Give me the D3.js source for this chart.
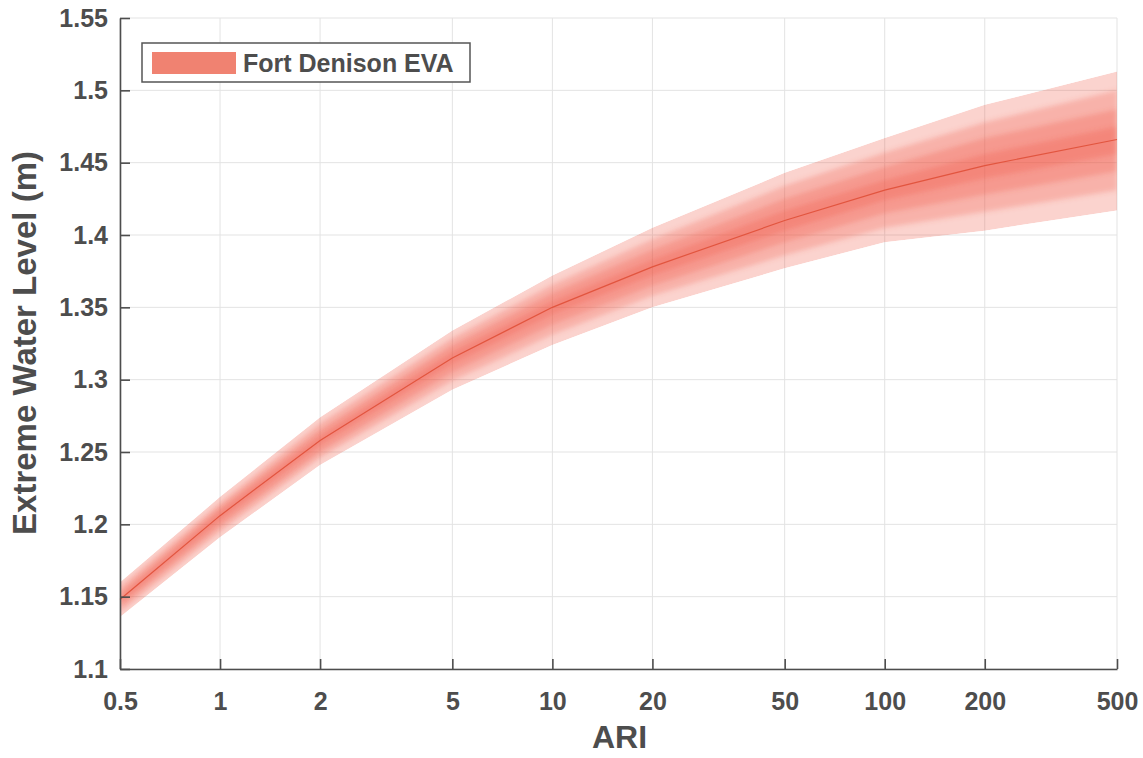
<!DOCTYPE html>
<html>
<head>
<meta charset="utf-8">
<script src="https://cdn.jsdelivr.net/npm/d3@7"></script>
<style>
  body { margin: 0; background: #fff; }
  svg text { font-family: Arial, "Liberation Sans", Helvetica, sans-serif; font-weight: bold; fill: #4d4d4d; }
</style>
</head>
<body>
<div id="canvas"></div>
<script>
// data
let ari = [0.5, 1, 2, 5, 10, 20, 50, 100, 200, 500];
let level = [1.148, 1.206, 1.258, 1.315, 1.350, 1.378, 1.410, 1.431, 1.448, 1.466];
let upper95 = [1.160, 1.219, 1.274, 1.334, 1.372, 1.405, 1.443, 1.467, 1.490, 1.513];
let lower95 = [1.136, 1.191, 1.241, 1.293, 1.324, 1.350, 1.377, 1.395, 1.403, 1.417];
let upper80 = [1.157, 1.215, 1.270, 1.329, 1.366, 1.397, 1.434, 1.457, 1.478, 1.500];
let lower80 = [1.139, 1.195, 1.246, 1.299, 1.331, 1.358, 1.386, 1.405, 1.416, 1.431];
let upper50 = [1.153, 1.212, 1.265, 1.324, 1.360, 1.390, 1.425, 1.447, 1.467, 1.487];
let lower50 = [1.143, 1.199, 1.250, 1.305, 1.338, 1.365, 1.395, 1.415, 1.428, 1.444];
let upper25 = [1.150, 1.209, 1.261, 1.319, 1.354, 1.383, 1.417, 1.438, 1.456, 1.475];
let lower25 = [1.146, 1.203, 1.255, 1.311, 1.345, 1.372, 1.403, 1.424, 1.439, 1.456];

let xTicks = [0.5, 1, 2, 5, 10, 20, 50, 100, 200, 500];
let yTicks = [1.1, 1.15, 1.2, 1.25, 1.3, 1.35, 1.4, 1.45, 1.5, 1.55];
let legendLabel = "Fort Denison EVA";

let width = 1143;
let height = 758;
let plotLeft = 120, plotRight = 1117, plotTop = 18, plotBottom = 669;

var svg = d3.select("#canvas").append("svg")
    .attr("width", width)
    .attr("height", height);

// soft edges for the inner bands so they shade into each other
var defs = svg.append("defs");
defs.append("filter").attr("id", "soft")
    .attr("x", "-5%").attr("y", "-20%").attr("width", "110%").attr("height", "140%")
    .append("feGaussianBlur").attr("stdDeviation", 2.5);
defs.append("clipPath").attr("id", "outer");

var xScale = d3.scaleLog()
    .domain([0.5, 500])
    .range([plotLeft, plotRight]);

var yScale = d3.scaleLinear()
    .domain([1.1, 1.55])
    .range([plotBottom, plotTop]);

// grid
svg.append("g").selectAll("line").data(xTicks).join("line")
    .attr("x1", d => xScale(d)).attr("x2", d => xScale(d))
    .attr("y1", plotTop).attr("y2", plotBottom)
    .attr("stroke", "#e3e3e3").attr("stroke-width", 1);
svg.append("g").selectAll("line").data(yTicks).join("line")
    .attr("x1", plotLeft).attr("x2", plotRight)
    .attr("y1", d => yScale(d)).attr("y2", d => yScale(d))
    .attr("stroke", "#e3e3e3").attr("stroke-width", 1);

// bands, outer to inner
let bands = [[lower95, upper95], [lower80, upper80], [lower50, upper50], [lower25, upper25]];
var area = d3.area()
    .x(d => xScale(d.x))
    .y0(d => yScale(d.lo))
    .y1(d => yScale(d.hi));

let outerPts = ari.map((a, i) => ({ x: a, lo: lower95[i], hi: upper95[i] }));
d3.select("#outer").append("path").datum(outerPts).attr("d", area);

var bandG = svg.append("g").attr("clip-path", "url(#outer)");
bands.forEach(function (b, k) {
    let pts = ari.map((a, i) => ({ x: a, lo: b[0][i], hi: b[1][i] }));
    bandG.append("path")
        .datum(pts)
        .attr("d", area)
        .attr("fill", "rgb(238,80,60)")
        .attr("fill-opacity", 0.25)
        .attr("filter", k > 0 ? "url(#soft)" : null);
});

var line = d3.line()
    .x((d, i) => xScale(ari[i]))
    .y(d => yScale(d));
svg.append("path")
    .datum(level)
    .attr("d", line)
    .attr("fill", "none")
    .attr("stroke", "#e2553f")
    .attr("stroke-width", 1.2);

// axes
var xAxis = d3.axisBottom(xScale)
    .tickValues(xTicks)
    .tickFormat(d3.format("~g"))
    .tickSizeInner(-10)
    .tickSizeOuter(0)
    .tickPadding(23);
var gx = svg.append("g")
    .attr("transform", "translate(0," + plotBottom + ")")
    .call(xAxis);

var yAxis = d3.axisLeft(yScale)
    .tickValues(yTicks)
    .tickFormat(d3.format("~g"))
    .tickSizeInner(-10)
    .tickSizeOuter(0)
    .tickPadding(12);
var gy = svg.append("g")
    .attr("transform", "translate(" + plotLeft + ",0)")
    .call(yAxis);

[gx, gy].forEach(function (g) {
    g.select(".domain").attr("stroke", "#4d4d4d").attr("stroke-width", 1.6);
    g.selectAll(".tick line").attr("stroke", "#4d4d4d").attr("stroke-width", 1.6);
    g.selectAll(".tick text")
        .attr("fill", "#4d4d4d")
        .style("font-size", "25px")
        .style("font-family", "Arial, 'Liberation Sans', sans-serif")
        .style("font-weight", "bold");
});

// axis titles
svg.append("text")
    .attr("x", (plotLeft + plotRight) / 2 + 1)
    .attr("y", 748)
    .attr("text-anchor", "middle")
    .style("font-size", "32px")
    .text("ARI");

svg.append("text")
    .attr("transform", "translate(36,343) rotate(-90)")
    .attr("text-anchor", "middle")
    .style("font-size", "33px")
    .text("Extreme Water Level (m)");

// legend
var lg = svg.append("g");
lg.append("rect")
    .attr("x", 142).attr("y", 43)
    .attr("width", 328).attr("height", 39)
    .attr("fill", "#fff")
    .attr("stroke", "#555").attr("stroke-width", 1.5);
lg.append("rect")
    .attr("x", 152).attr("y", 52)
    .attr("width", 84).attr("height", 22)
    .attr("fill", "#f08271");
lg.append("text")
    .attr("x", 243).attr("y", 72)
    .style("font-size", "25px")
    .text(legendLabel);
</script>
</body>
</html>
